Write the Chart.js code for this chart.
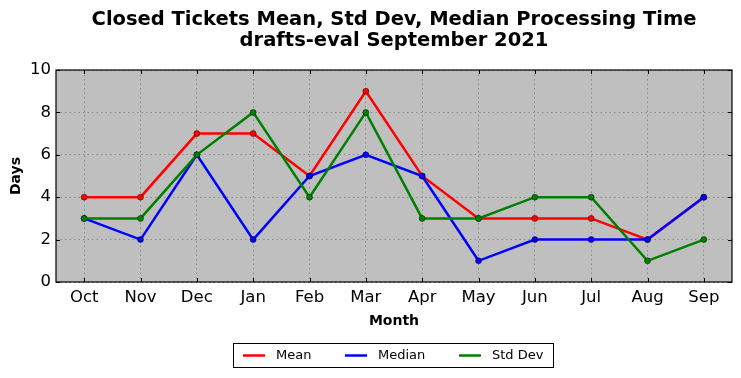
<!DOCTYPE html>
<html><head><meta charset="utf-8">
<script src="https://cdn.jsdelivr.net/npm/chart.js@4"></script>
<style>html,body{margin:0;padding:0;background:#fff}#wrap{width:741px;height:378px}</style>
</head><body><div id="wrap"><canvas id="c" width="741" height="378"></canvas></div>
<script>
const months = ["Oct","Nov","Dec","Jan","Feb","Mar","Apr","May","Jun","Jul","Aug","Sep"];
const meanDays = [4,4,7,7,5,9,5,3,3,3,2,4];
const medianDays = [3,2,6,2,5,6,5,1,2,2,2,4];
const stdDevDays = [3,3,6,8,4,8,3,3,4,4,1,2];
const yTicks = [0,2,4,6,8,10];
const titleLines = ["Closed Tickets Mean, Std Dev, Median Processing Time","drafts-eval September 2021"];

const FONT = "'DejaVu Sans', sans-serif";

const framePlugin = {
  id: 'frame',
  beforeDraw(chart) {
    const {ctx, chartArea: a} = chart;
    ctx.save();
    ctx.fillStyle = '#bfbfbf';
    ctx.fillRect(a.left, a.top, a.right - a.left, a.bottom - a.top);
    ctx.restore();
  },
  afterDatasetsDraw(chart) {
    const {ctx, chartArea: a, scales} = chart;
    ctx.save();
    ctx.strokeStyle = '#000';
    ctx.lineWidth = 1;
    ctx.beginPath();
    months.forEach((m, i) => {
      const x = Math.round(scales.x.getPixelForValue(i)) + 0.5;
      ctx.moveTo(x, a.bottom); ctx.lineTo(x, a.bottom - 4);
      ctx.moveTo(x, a.top); ctx.lineTo(x, a.top + 4);
    });
    yTicks.forEach(v => {
      const y = Math.round(scales.y.getPixelForValue(v)) + 0.5;
      ctx.moveTo(a.left, y); ctx.lineTo(a.left + 4, y);
      ctx.moveTo(a.right, y); ctx.lineTo(a.right - 4, y);
    });
    ctx.stroke();
    ctx.lineWidth = 1.2;
    ctx.strokeRect(a.left, a.top, a.right - a.left, a.bottom - a.top);
    ctx.restore();
  },
  afterDraw(chart) {
    const {ctx, chartArea: a} = chart;
    ctx.save();
    ctx.fillStyle = '#000';
    ctx.font = "bold 19.5px " + FONT;
    ctx.textAlign = 'center';
    ctx.textBaseline = 'middle';
    const cx = (a.left + a.right) / 2;
    ctx.fillText(titleLines[0], cx, 20);
    ctx.fillText(titleLines[1], cx, 41);
    // legend
    ctx.strokeStyle = '#000';
    ctx.lineWidth = 1;
    ctx.strokeRect(233.5, 343.5, 320, 24);
    ctx.font = "13px " + FONT;
    ctx.textAlign = 'left';
    const items = [[0, 243], [1, 345], [2, 459]];
    items.forEach(([i, x]) => {
      const d = chart.data.datasets[i];
      ctx.strokeStyle = d.borderColor;
      ctx.lineWidth = 2.5;
      ctx.beginPath();
      ctx.moveTo(x, 355.5); ctx.lineTo(x + 22, 355.5);
      ctx.stroke();
      ctx.fillStyle = '#000';
      ctx.fillText(d.label, x + 33, 356);
    });
    ctx.restore();
  }
};

function ds(label, data, color, order) {
  return {
    label, data, order,
    borderColor: color, backgroundColor: color,
    borderWidth: 2.5,
    pointRadius: 3, pointHoverRadius: 3,
    pointBackgroundColor: color,
    pointBorderColor: 'rgba(0,0,0,0.55)',
    pointBorderWidth: 0.8,
    tension: 0
  };
}

new Chart(document.getElementById('c'), {
  type: 'line',
  data: {
    labels: months,
    datasets: [
      ds('Mean', meanDays, '#ff0000', 3),
      ds('Median', medianDays, '#0000ff', 2),
      ds('Std Dev', stdDevDays, '#008000', 1)
    ]
  },
  options: {
    responsive: false,
    animation: false,
    devicePixelRatio: 1,
    layout: { padding: { top: 70, right: 9, left: 0, bottom: 34 } },
    plugins: {
      title: { display: false },
      tooltip: { enabled: false },
      legend: { display: false }
    },
    scales: {
      x: {
        offset: true,
        grid: { display: true, color: '#8a8a8a', lineWidth: 1, drawTicks: false, offset: false },
        border: { display: false, dash: [1.5, 3] },
        ticks: { font: { family: FONT, size: 16.5 }, color: '#000', padding: 6, maxRotation: 0 },
        title: { display: true, text: 'Month', font: { family: FONT, size: 14, weight: 'bold' }, color: '#000', padding: { top: 4, bottom: 14 } },
        afterFit(s) { s.height = 62; }
      },
      y: {
        min: 0, max: 10,
        afterBuildTicks(s) { s.ticks = yTicks.map(v => ({ value: v })); },
        grid: { display: true, color: '#8a8a8a', lineWidth: 1, drawTicks: false },
        border: { display: false, dash: [1.5, 3] },
        ticks: { font: { family: FONT, size: 16.5 }, color: '#000', padding: 5 },
        title: { display: true, text: 'Days', font: { family: FONT, size: 14, weight: 'bold' }, color: '#000', padding: { top: 8, bottom: 4 } },
        afterFit(s) { s.width = 56; }
      }
    }
  },
  plugins: [framePlugin]
});
</script>
</body></html>
